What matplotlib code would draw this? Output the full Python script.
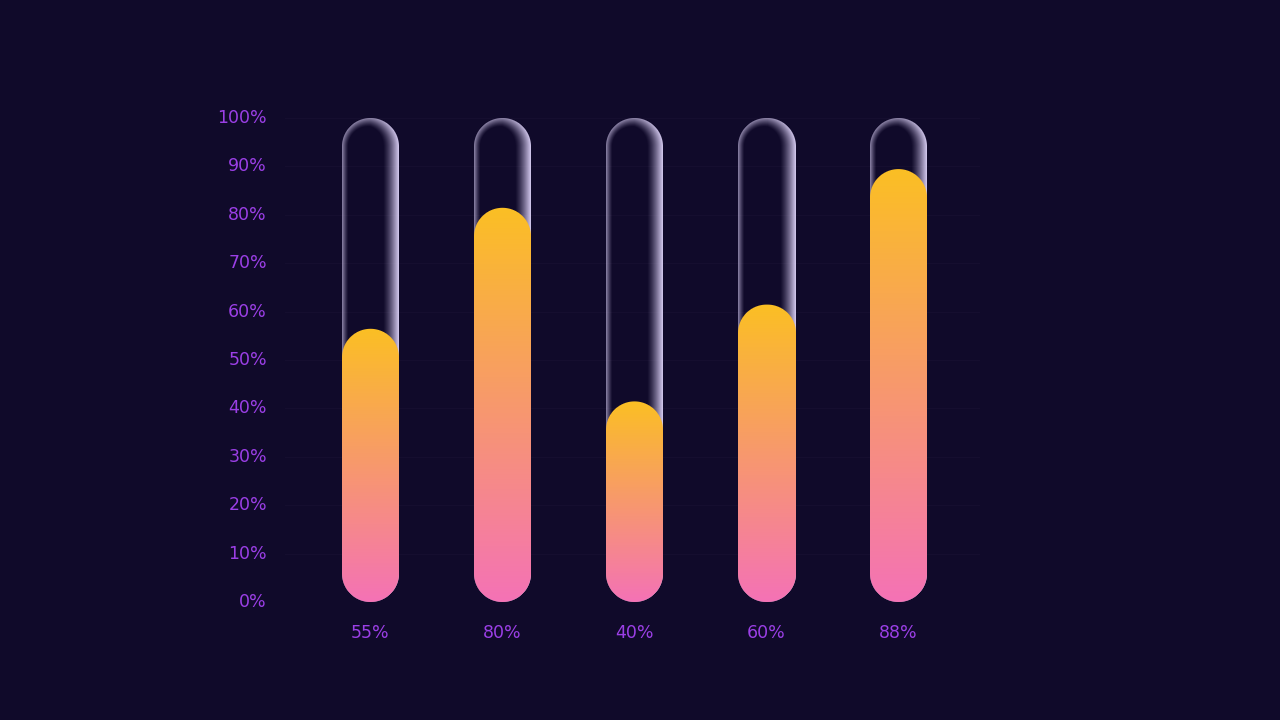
import numpy as np
import matplotlib
matplotlib.use("Agg")
import matplotlib.pyplot as plt
from matplotlib.colors import to_rgb

# ---- data ----
categories = ["55%", "80%", "40%", "60%", "88%"]
values = [55, 80, 40, 60, 88]
track_max = 100
yticks = [0, 10, 20, 30, 40, 50, 60, 70, 80, 90, 100]
ytick_labels = [f"{t}%" for t in yticks]

# ---- style ----
BG = "#100a2a"
GRID = "#150e2f"
LABEL = "#9b3fe6"
TOP_C = np.array(to_rgb("#fbbf24"))
BOT_C = np.array(to_rgb("#f472b6"))
GLOW_C = np.array(to_rgb("#ddd2f8"))
BAR_W_PX = 57.0
CAP_PAD_PX = 7.0

W_PX, H_PX = 1280, 720
fig = plt.figure(figsize=(12.8, 7.2), dpi=100, facecolor=BG)
ax = fig.add_axes([285 / W_PX, 118 / H_PX, 695 / W_PX, 484 / H_PX])
ax.set_facecolor(BG)
x = np.arange(len(categories))
ax.set_xlim(-0.644, len(categories) - 1 + 0.621)
ax.set_ylim(0, 100)

for s in ax.spines.values():
    s.set_visible(False)
ax.set_yticks(yticks)
ax.set_yticklabels(ytick_labels, va="center")
ax.set_xticks(x)
ax.set_xticklabels(categories)
ax.tick_params(axis="both", length=0, labelsize=12.5, labelcolor=LABEL)
ax.tick_params(axis="y", pad=13)
ax.tick_params(axis="x", pad=16)
for lbl in ax.get_yticklabels():
    lbl.set_y(lbl.get_position()[1])
ax.grid(axis="y", color=GRID, linewidth=1.0)
ax.set_axisbelow(True)

# pixel scale
p0 = ax.transData.transform((0, 0))
p1 = ax.transData.transform((1, 1))
sx = p1[0] - p0[0]
sy = p1[1] - p0[1]
hw = BAR_W_PX / 2.0
r = hw


def capsule_fields(height_px):
    wpx = int(np.ceil(BAR_W_PX))
    hpx = int(np.ceil(height_px))
    xs = (np.arange(wpx) + 0.5) - wpx / 2.0
    ys = (np.arange(hpx) + 0.5)
    X, Y = np.meshgrid(xs, ys)
    yc = np.clip(Y, r, max(r, height_px - r))
    dx = X
    dy = Y - yc
    dist = np.sqrt(dx ** 2 + dy ** 2)
    depth = r - dist
    nx = np.where(dist > 0, dx / np.maximum(dist, 1e-9), 0)
    cover = np.clip(depth + 0.5, 0, 1)
    return X, Y, depth, nx, cover, wpx, hpx


for xi, v in zip(x, values):
    # glass track
    track_h = track_max * sy
    X, Y, depth, nx, cover, wpx, hpx = capsule_fields(track_h)
    pos = np.maximum(nx, 0)
    neg = np.maximum(-nx, 0)
    width = 9.0 + 7.0 * pos - 2.5 * neg
    weight = 0.62 + 0.35 * pos
    ramp = np.clip(1 - np.maximum(depth, 0) / width, 0, 1) ** 1.3
    alpha = np.clip(ramp * weight, 0, 1) * cover
    img = np.zeros((hpx, wpx, 4))
    img[..., :3] = GLOW_C
    img[..., 3] = alpha
    ext_w = wpx / sx / 2
    ax.imshow(img[::-1], extent=(xi - ext_w, xi + ext_w, 0, hpx / sy),
              origin="upper", interpolation="nearest", aspect="auto",
              zorder=2, clip_on=False)

    # value bar
    bar_h = v * sy + CAP_PAD_PX
    X, Y, depth, nx, cover, wpx, hpx = capsule_fields(bar_h)
    t = np.clip(Y / bar_h, 0, 1)[..., None]
    img = np.zeros((hpx, wpx, 4))
    img[..., :3] = BOT_C * (1 - t) + TOP_C * t
    img[..., 3] = cover
    ax.imshow(img[::-1], extent=(xi - ext_w, xi + ext_w, 0, hpx / sy),
              origin="upper", interpolation="nearest", aspect="auto",
              zorder=3, clip_on=False)

ax.set_xlim(-0.644, len(categories) - 1 + 0.621)
ax.set_ylim(0, 100)
fig.savefig("out.png", dpi=100, facecolor=BG)
